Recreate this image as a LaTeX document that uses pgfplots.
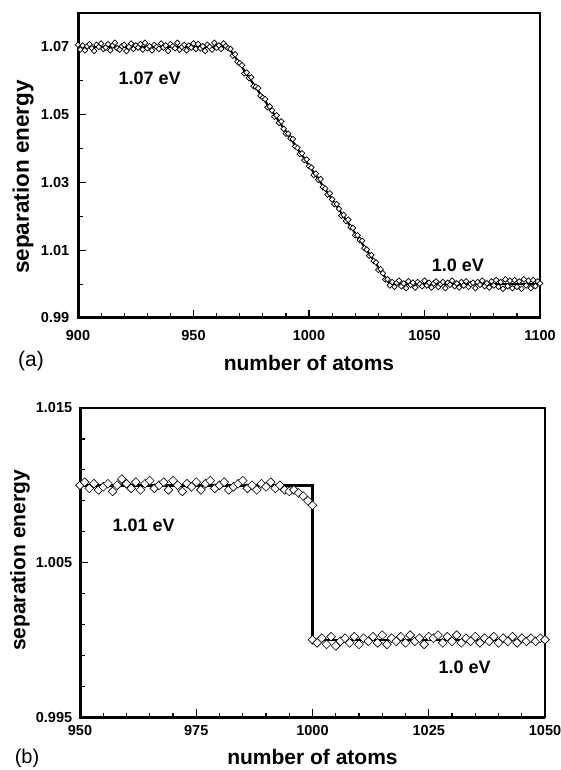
\documentclass[border=0pt]{standalone}
\usepackage{pgfplots}
\pgfplotsset{compat=1.18}
\usepackage{fontspec}
\setmainfont{Liberation Sans}
\pgfplotsset{
 common/.style={
  scale only axis, anchor=north west, clip=false,
  axis line style={line width=1.5pt},
  tick pos=left, tick align=inside,
  major tick length=8pt, minor tick length=4.5pt,
  tick style={black, line width=1.2pt},
  ticklabel style={font=\fontsize{14.5}{16}\selectfont\bfseries},
  /pgf/number format/assume math mode=true,
 },
 dia/.style={only marks, mark=square*, mark options={rotate=45, fill=white, draw=black, line width=#1}},
}
\begin{document}
\begin{tikzpicture}
\path[use as bounding box] (0pt,0pt) rectangle (561pt,-770pt);
% ---------------- panel (a)
\begin{axis}[common,
  at={(78pt,-13pt)}, width=462pt, height=305pt,
  xmin=900, xmax=1100, ymin=0.99, ymax=1.08,
  xtick={900,950,1000,1050,1100}, xticklabels={900,950,1000,1050,1100},
  minor x tick num=4,
  ytick={0.99,1.01,1.03,1.05,1.07}, yticklabels={0.99,1.01,1.03,1.05,1.07},
  minor ytick={1.00,1.02,1.04,1.06},
  xticklabel style={yshift=-9.3pt},
  yticklabel style={xshift=-5.3pt},
  xlabel={number of atoms}, ylabel={separation energy},
  every axis x label/.style={at={(axis description cs:0.5,0)}, anchor=center, yshift=-45pt, font=\fontsize{21}{24}\selectfont\bfseries},
  every axis y label/.style={at={(axis description cs:0,0.5)}, xshift=-55pt, yshift=-11.5pt, rotate=90, anchor=center, font=\fontsize{22.5}{24}\selectfont\bfseries},
]
\addplot[dia=0.7pt, mark size=2.0pt] table {
x y
900 1.0706
901 1.0692
902 1.0704
903 1.0690
904 1.0702
905 1.0708
906 1.0696
907 1.0688
908 1.0706
909 1.0700
910 1.0710
911 1.0694
912 1.0698
913 1.0708
914 1.0690
915 1.0704
916 1.0712
917 1.0696
918 1.0692
919 1.0702
920 1.0706
921 1.0688
922 1.0700
923 1.0710
924 1.0694
925 1.0704
926 1.0698
927 1.0708
928 1.0692
929 1.0712
930 1.0696
931 1.0702
932 1.0690
933 1.0706
934 1.0700
935 1.0694
936 1.0710
937 1.0698
938 1.0704
939 1.0688
940 1.0708
941 1.0702
942 1.0696
943 1.0712
944 1.0692
945 1.0700
946 1.0706
947 1.0690
948 1.0704
949 1.0698
950 1.0710
951 1.0694
952 1.0708
953 1.0696
954 1.0702
955 1.0688
956 1.0706
957 1.0700
958 1.0692
959 1.0712
960 1.0698
961 1.0704
962 1.0694
963 1.0710
964 1.0702
965 1.0696
966 1.0694
967 1.0674
968 1.0678
969 1.0656
970 1.0652
971 1.0646
972 1.0622
973 1.0624
974 1.0608
975 1.0610
976 1.0584
977 1.0582
978 1.0578
979 1.0556
980 1.0550
981 1.0546
982 1.0522
983 1.0524
984 1.0512
985 1.0494
986 1.0498
987 1.0476
988 1.0480
989 1.0458
990 1.0444
991 1.0444
992 1.0430
993 1.0428
994 1.0406
995 1.0402
996 1.0384
997 1.0386
998 1.0366
999 1.0368
1000 1.0348
1001 1.0344
1002 1.0322
1003 1.0326
1004 1.0308
1005 1.0310
1006 1.0286
1007 1.0282
1008 1.0264
1009 1.0268
1010 1.0250
1011 1.0236
1012 1.0236
1013 1.0222
1014 1.0202
1015 1.0204
1016 1.0186
1017 1.0190
1018 1.0168
1019 1.0166
1020 1.0144
1021 1.0144
1022 1.0130
1023 1.0128
1024 1.0106
1025 1.0102
1026 1.0084
1027 1.0086
1028 1.0068
1029 1.0064
1030 1.0042
1031 1.0044
1032 1.0032
1033 1.0014
1034 1.0014
1035 0.9996
1036 1.0006
1037 0.9992
1038 1.0004
1039 1.0010
1040 0.9994
1041 1.0002
1042 0.9988
1043 1.0008
1044 0.9998
1045 1.0004
1046 0.9990
1047 1.0006
1048 1.0000
1049 0.9994
1050 1.0010
1051 0.9996
1052 1.0004
1053 0.9990
1054 1.0002
1055 1.0008
1056 0.9992
1057 1.0000
1058 1.0006
1059 0.9988
1060 1.0004
1061 0.9998
1062 1.0010
1063 0.9994
1064 1.0002
1065 0.9990
1066 1.0006
1067 0.9996
1068 1.0008
1069 0.9992
1070 1.0000
1071 1.0004
1072 0.9988
1073 1.0006
1074 0.9998
1075 1.0010
1076 0.9994
1077 1.0002
1078 0.9990
1079 1.0008
1080 0.9996
1081 1.0012
1082 0.9992
1083 1.0006
1084 0.9986
1085 1.0014
1086 0.9994
1087 1.0010
1088 0.9988
1089 1.0012
1090 0.9992
1091 1.0008
1092 0.9986
1093 1.0014
1094 0.9996
1095 1.0010
1096 0.9988
1097 1.0012
1098 0.9994
1099 1.0008
1100 1.0002
};
\addplot[black, line width=2pt, no marks] coordinates {(900,1.07) (965,1.07) (1035,1.00) (1100,1.00)};
\draw[line width=3pt] (rel axis cs:0,1) -- (rel axis cs:0,0) -- (rel axis cs:1,0);
\node[font=\fontsize{18}{20}\selectfont\bfseries] at (axis cs:931,1.0608) {1.07 eV};
\node[font=\fontsize{18}{20}\selectfont\bfseries] at (axis cs:1064.5,1.0056) {1.0 eV};
\end{axis}
\node[font=\fontsize{21}{24}\selectfont] at (31pt,-361pt) {(a)};
% ---------------- panel (b)
\begin{axis}[common,
  at={(80pt,-408pt)}, width=465pt, height=309pt,
  xmin=950, xmax=1050, ymin=0.995, ymax=1.015,
  xtick={950,975,1000,1025,1050}, xticklabels={950,975,1000,1025,1050},
  minor x tick num=4,
  ytick={0.995,1.005,1.015}, yticklabels={0.995,1.005,1.015},
  minor y tick num=4,
  xticklabel style={yshift=-5.3pt},
  yticklabel style={xshift=-4.3pt},
  xlabel={number of atoms}, ylabel={separation energy},
  every axis x label/.style={at={(axis description cs:0.5,0)}, anchor=center, yshift=-40pt, font=\fontsize{21}{24}\selectfont\bfseries},
  every axis y label/.style={at={(axis description cs:0,0.5)}, xshift=-60pt, yshift=2pt, rotate=90, anchor=center, font=\fontsize{21}{24}\selectfont\bfseries},
]
\addplot[dia=0.6pt, mark size=3.1pt] table {
x y
950 1.0100
951 1.0102
952 1.0098
953 1.0101
954 1.0097
955 1.0099
956 1.0101
957 1.0096
958 1.0100
959 1.0104
960 1.0101
961 1.0098
962 1.0102
963 1.0097
964 1.0101
965 1.0103
966 1.0098
967 1.0100
968 1.0102
969 1.0097
970 1.0103
971 1.0100
972 1.0096
973 1.0101
974 1.0099
975 1.0102
976 1.0097
977 1.0101
978 1.0103
979 1.0098
980 1.0100
981 1.0102
982 1.0097
983 1.0099
984 1.0101
985 1.0103
986 1.0098
987 1.0100
988 1.0097
989 1.0101
990 1.0099
991 1.0102
992 1.0098
993 1.0100
994 1.0097
995 1.0096
996 1.0097
997 1.0095
998 1.0093
999 1.0090
1000 1.0087
};
\addplot[dia=0.6pt, mark size=3.1pt] table {
x y
1000 1.0000
1001 0.9998
1002 1.0001
1003 0.9997
1004 1.0002
1005 0.9996
1006 0.9999
1007 1.0001
1008 0.9998
1009 1.0002
1010 0.9997
1011 1.0001
1012 0.9999
1013 1.0002
1014 0.9998
1015 1.0003
1016 0.9997
1017 1.0001
1018 0.9999
1019 1.0002
1020 0.9998
1021 1.0003
1022 0.9999
1023 1.0001
1024 0.9997
1025 1.0002
1026 1.0001
1027 1.0003
1028 0.9998
1029 1.0002
1030 0.9999
1031 1.0003
1032 0.9998
1033 1.0001
1034 0.9999
1035 1.0002
1036 0.9998
1037 1.0001
1038 0.9999
1039 1.0002
1040 0.9998
1041 1.0001
1042 0.9999
1043 1.0002
1044 0.9998
1045 1.0001
1046 0.9999
1047 1.0001
1048 0.9999
1049 1.0001
1050 1.0000
};
\addplot[black, line width=2.5pt, no marks] coordinates {(950,1.010) (1000,1.010) (1000,1.000) (1050,1.000)};
\draw[line width=3pt] (rel axis cs:0,1) -- (rel axis cs:0,0) -- (rel axis cs:1,0);
\node[font=\fontsize{18}{20}\selectfont\bfseries] at (axis cs:963.7,1.00743) {1.01 eV};
\node[font=\fontsize{18}{20}\selectfont\bfseries] at (axis cs:1032.7,0.99824) {1.0 eV};
\end{axis}
\node[font=\fontsize{20}{22}\selectfont] at (27pt,-758pt) {(b)};
\end{tikzpicture}
\end{document}
